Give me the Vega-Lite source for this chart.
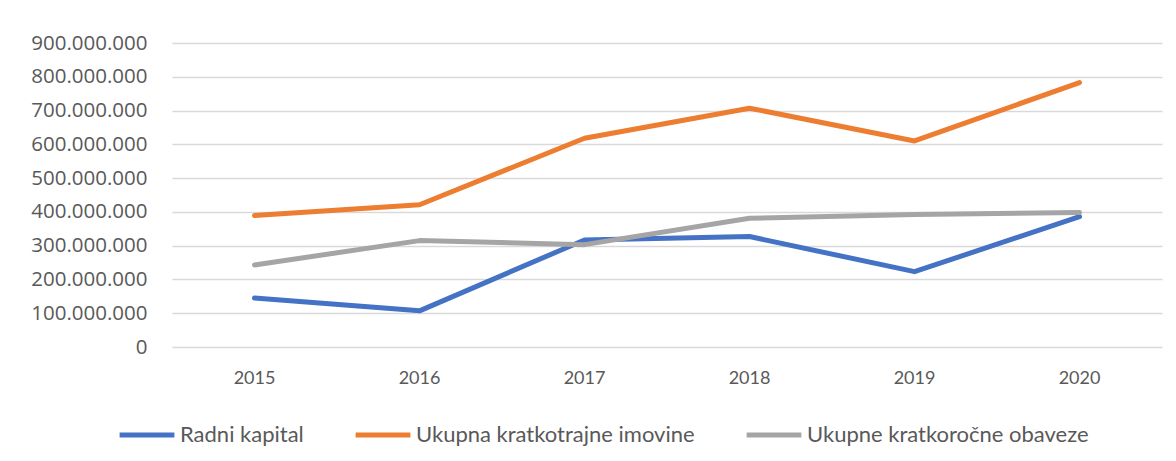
{
  "$schema": "https://vega.github.io/schema/vega-lite/v6.json",
  "width": 990,
  "height": 304,
  "autosize": {"type": "none"},
  "padding": {"left": 172, "top": 43, "right": 14, "bottom": 114},
  "background": "white",
  "config": {"view": {"stroke": null}},
  "data": {
    "values": [
      {"year": "2015", "series": "Radni kapital", "value": 145000000},
      {"year": "2016", "series": "Radni kapital", "value": 107000000},
      {"year": "2017", "series": "Radni kapital", "value": 317000000},
      {"year": "2018", "series": "Radni kapital", "value": 327000000},
      {"year": "2019", "series": "Radni kapital", "value": 223000000},
      {"year": "2020", "series": "Radni kapital", "value": 386000000},
      {"year": "2015", "series": "Ukupna kratkotrajne imovine", "value": 389000000},
      {"year": "2016", "series": "Ukupna kratkotrajne imovine", "value": 421000000},
      {"year": "2017", "series": "Ukupna kratkotrajne imovine", "value": 618000000},
      {"year": "2018", "series": "Ukupna kratkotrajne imovine", "value": 707000000},
      {"year": "2019", "series": "Ukupna kratkotrajne imovine", "value": 610000000},
      {"year": "2020", "series": "Ukupna kratkotrajne imovine", "value": 783000000},
      {"year": "2015", "series": "Ukupne kratkoročne obaveze", "value": 243000000},
      {"year": "2016", "series": "Ukupne kratkoročne obaveze", "value": 315000000},
      {"year": "2017", "series": "Ukupne kratkoročne obaveze", "value": 303000000},
      {"year": "2018", "series": "Ukupne kratkoročne obaveze", "value": 381000000},
      {"year": "2019", "series": "Ukupne kratkoročne obaveze", "value": 392000000},
      {"year": "2020", "series": "Ukupne kratkoročne obaveze", "value": 398000000}
    ]
  },
  "mark": {"type": "line", "strokeWidth": 5, "strokeCap": "round", "strokeJoin": "round"},
  "encoding": {
    "x": {
      "field": "year",
      "type": "nominal",
      "scale": {"type": "band", "paddingInner": 0, "paddingOuter": 0},
      "axis": {
        "title": null,
        "labelAngle": 0,
        "domain": false,
        "ticks": false,
        "grid": false,
        "labelPadding": 22,
        "labelFont": "Lato",
        "labelFontSize": 18,
        "labelColor": "#595959"
      }
    },
    "y": {
      "field": "value",
      "type": "quantitative",
      "scale": {"domain": [0, 900000000], "nice": false},
      "axis": {
        "title": null,
        "values": [0, 100000000, 200000000, 300000000, 400000000, 500000000, 600000000, 700000000, 800000000, 900000000],
        "labelExpr": "replace(format(datum.value, ',.0f'), /,/g, '.')",
        "domain": false,
        "ticks": false,
        "grid": true,
        "gridColor": "#D9D9D9",
        "gridWidth": 1.5,
        "labelPadding": 25,
        "labelFont": "Open Sans",
        "labelFontSize": 20.5,
        "labelColor": "#595959"
      }
    },
    "color": {
      "field": "series",
      "type": "nominal",
      "scale": {
        "domain": ["Radni kapital", "Ukupna kratkotrajne imovine", "Ukupne kratkoročne obaveze"],
        "range": ["#4472C4", "#ED7D31", "#A5A5A5"]
      },
      "legend": {
        "title": null,
        "orient": "none",
        "legendX": -55,
        "legendY": 362,
        "direction": "horizontal",
        "symbolType": "stroke",
        "symbolSize": 3000,
        "symbolStrokeWidth": 5,
        "labelOffset": 3,
        "columnPadding": 41,
        "labelFont": "Lato",
        "labelFontSize": 22,
        "labelColor": "#595959",
        "labelLimit": 400
      }
    }
  }
}
